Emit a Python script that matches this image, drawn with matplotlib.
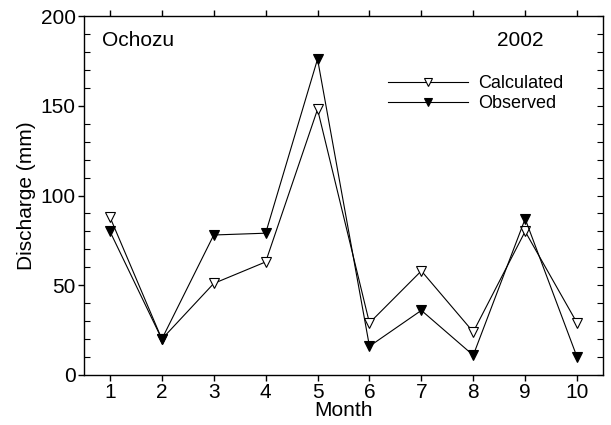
import matplotlib
matplotlib.use("Agg")
import matplotlib.pyplot as plt
from matplotlib.ticker import MultipleLocator

months = [1, 2, 3, 4, 5, 6, 7, 8, 9, 10]
calculated = [88, 20, 51, 63, 148, 29, 58, 24, 80, 29]
observed = [80, 20, 78, 79, 176, 16, 36, 11, 87, 10]

plt.rcParams['font.family'] = ['Liberation Sans', 'DejaVu Sans']

fig = plt.figure(figsize=(6.11, 4.25), dpi=100)
ax = fig.add_axes([84/611, 1-375/425, (603-84)/611, (375-16)/425])

ax.plot(months, calculated, color='black', lw=0.8, marker='v', ms=7.5,
        mfc='white', mec='black', mew=0.8, label='Calculated')
ax.plot(months, observed, color='black', lw=0.8, marker='v', ms=7.5,
        mfc='black', mec='black', mew=0.8, label='Observed')

ax.set_xlim(0.5, 10.5)
ax.set_ylim(0, 200)
ax.set_xticks(months)
ax.set_yticks([0, 50, 100, 150, 200])
ax.yaxis.set_minor_locator(MultipleLocator(10))

for s in ax.spines.values():
    s.set_linewidth(1.0)

ax.tick_params(axis='x', which='major', direction='out', length=4, width=1,
               top=True, labelsize=15, pad=2)
ax.tick_params(axis='y', which='major', direction='out', length=4, width=1,
               right=False, labelsize=15, pad=2)
ax.tick_params(axis='y', which='minor', direction='in', length=4, width=0.8,
               left=True, right=True)

# right spine: inward ticks every 10 (all same length)
ax2 = ax.twinx()
ax2.set_ylim(0, 200)
ax2.yaxis.set_major_locator(MultipleLocator(10))
ax2.tick_params(axis='y', which='major', direction='in', length=4, width=0.8,
                labelright=False)
for s in ax2.spines.values():
    s.set_visible(False)

ax.set_xlabel('Month', fontsize=15, labelpad=-1)
ax.set_ylabel('Discharge (mm)', fontsize=15, labelpad=3)

ax.text(0.035, 0.932, 'Ochozu', transform=ax.transAxes, fontsize=15,
        ha='left', va='center')
ax.text(0.796, 0.932, '2002', transform=ax.transAxes, fontsize=15,
        ha='left', va='center')

leg = ax.legend(loc='upper left', bbox_to_anchor=(0.586, 0.836), frameon=False,
                fontsize=13, handlelength=4.4, handletextpad=0.6,
                labelspacing=0.2, borderaxespad=0, borderpad=0,
                markerscale=0.85)

fig.savefig('out.png', dpi=100)
